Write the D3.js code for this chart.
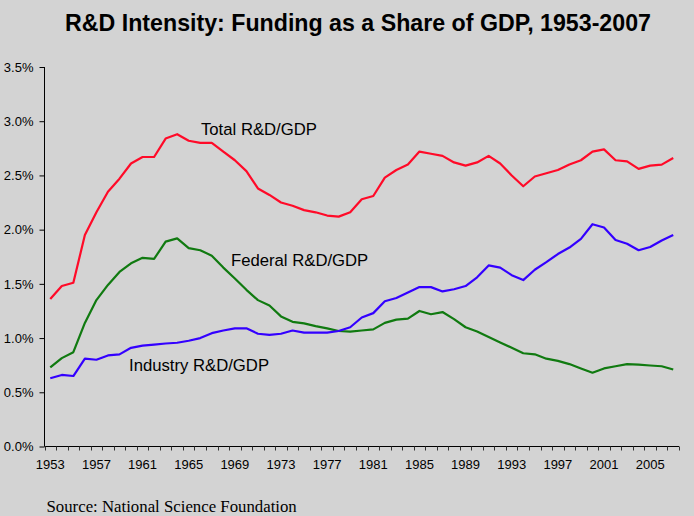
<!DOCTYPE html>
<html><head><meta charset="utf-8">
<script src="https://cdn.jsdelivr.net/npm/d3@7/dist/d3.min.js"></script>
<style>
html,body{margin:0;padding:0;background:#d3d3d3;}
svg{display:block;}
</style></head>
<body>
<script>
const years = d3.range(1953, 2008);
const totalRD = [1.36,1.48,1.51,1.95,2.16,2.35,2.47,2.61,2.67,2.67,2.84,2.88,2.82,2.80,2.80,2.72,2.64,2.54,2.38,2.32,2.25,2.22,2.18,2.16,2.13,2.12,2.16,2.28,2.31,2.48,2.55,2.60,2.72,2.70,2.68,2.62,2.59,2.62,2.68,2.61,2.50,2.40,2.49,2.52,2.55,2.60,2.64,2.72,2.74,2.64,2.63,2.56,2.59,2.60,2.66];
const federalRD = [0.73,0.815,0.87,1.14,1.35,1.49,1.61,1.69,1.74,1.73,1.89,1.92,1.83,1.81,1.76,1.65,1.55,1.445,1.35,1.30,1.20,1.15,1.135,1.11,1.09,1.065,1.06,1.07,1.08,1.14,1.17,1.18,1.25,1.22,1.24,1.175,1.10,1.06,1.01,0.96,0.91,0.86,0.85,0.81,0.79,0.76,0.72,0.68,0.72,0.74,0.76,0.755,0.747,0.74,0.71];
const industryRD = [0.63,0.66,0.65,0.81,0.80,0.84,0.85,0.91,0.93,0.94,0.95,0.957,0.975,1.00,1.045,1.07,1.09,1.09,1.04,1.03,1.04,1.07,1.05,1.05,1.05,1.065,1.10,1.19,1.23,1.34,1.37,1.42,1.47,1.47,1.43,1.45,1.48,1.56,1.67,1.65,1.58,1.535,1.63,1.70,1.775,1.835,1.915,2.05,2.02,1.905,1.87,1.81,1.84,1.90,1.95];
const yTicks = [0,0.5,1.0,1.5,2.0,2.5,3.0,3.5];
const xLabelYears = d3.range(1953, 2008, 4);
const seriesNames = ["Total R&D/GDP","Federal R&D/GDP","Industry R&D/GDP"];
const seriesColors = ["#ff0a28","#107a10","#3300ff"];
const titleText = "R&D Intensity: Funding as a Share of GDP, 1953-2007";
const sourceText = "Source: National Science Foundation";

const W = 694, H = 516;
const svg = d3.select("body").append("svg").attr("width", W).attr("height", H);
svg.append("rect").attr("width", W).attr("height", H).attr("fill", "#d3d3d3");

const x = d3.scaleBand().domain(years).range([44.5, 679]).padding(0);
const y = d3.scaleLinear().domain([0, 3.5]).range([446.5, 67]);

// title
svg.append("text").attr("x", 358).attr("y", 31).attr("text-anchor", "middle")
  .attr("font-family", "Liberation Sans, Arial, sans-serif").attr("font-weight", "bold")
  .attr("font-size", 23.2).attr("fill", "#000").text(titleText);

// y axis
const yAxis = d3.axisLeft(y).tickValues(yTicks).tickSize(5).tickPadding(6)
  .tickFormat(d => d.toFixed(1) + "%");
const gy = svg.append("g").attr("transform", "translate(44.5,0)").call(yAxis);
gy.select(".domain").attr("stroke", "#000").attr("d", `M0,${y(3.5)}V${y(0)}`);
gy.selectAll(".tick line").attr("stroke", "#000");
gy.selectAll("text").attr("font-family", "Liberation Sans, Arial, sans-serif").attr("font-size", 13).attr("fill", "#000");

// x axis
const gx = svg.append("g").attr("transform", "translate(0,446.5)");
gx.append("line").attr("x1", 44.5).attr("x2", 679).attr("stroke", "#000");
const bounds = years.map(d => x(d)).concat([x(2007) + x.bandwidth()]);
gx.selectAll("line.tk").data(bounds).join("line").attr("class", "tk")
  .attr("x1", d => Math.round(d) + 0.5).attr("x2", d => Math.round(d) + 0.5)
  .attr("y1", 0).attr("y2", 4).attr("stroke", "#333");
gx.selectAll("text").data(xLabelYears).join("text")
  .attr("x", d => x(d) + x.bandwidth() / 2).attr("y", 22).attr("text-anchor", "middle")
  .attr("font-family", "Liberation Sans, Arial, sans-serif").attr("font-size", 13).attr("fill", "#000")
  .text(d => d);

// lines
const allSeries = [totalRD, federalRD, industryRD];
const line = d3.line().x((d, i) => x(years[i]) + x.bandwidth() / 2).y(d => y(d));
svg.selectAll("path.series").data(allSeries).join("path").attr("class", "series")
  .attr("d", line).attr("fill", "none").attr("stroke", (d, i) => seriesColors[i])
  .attr("stroke-width", 2.2).attr("stroke-linejoin", "round");

// series labels
const labelPos = [[201, 135], [231, 266], [129, 371]];
svg.selectAll("text.lbl").data(seriesNames).join("text").attr("class", "lbl")
  .attr("x", (d, i) => labelPos[i][0]).attr("y", (d, i) => labelPos[i][1])
  .attr("font-family", "Liberation Sans, Arial, sans-serif").attr("font-size", 16.7).attr("fill", "#000")
  .text(d => d);

// source
svg.append("text").attr("x", 46.5).attr("y", 511.5)
  .attr("font-family", "Liberation Serif, Times New Roman, serif").attr("font-size", 16.8).attr("fill", "#000")
  .text(sourceText);
</script>
</body></html>
